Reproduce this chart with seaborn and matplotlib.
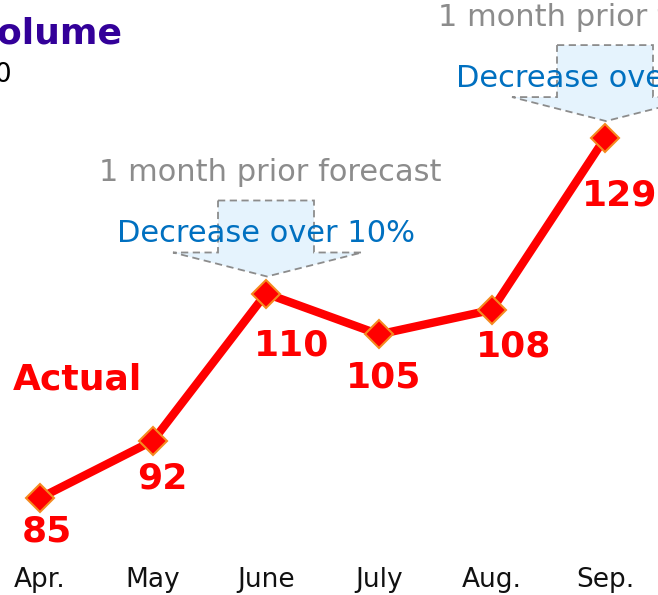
import matplotlib
matplotlib.use("Agg")
import matplotlib.pyplot as plt
from matplotlib.patches import Polygon
import pandas as pd
import seaborn as sns

# Monthly actual values
MONTHS = ["Apr.", "May", "June", "July", "Aug.", "Sep."]
ACTUAL = [85, 92, 110, 105, 108, 129]
# months that get a "decrease over 10%" callout
CALLOUT_MONTHS = ["June", "Sep."]
CALLOUT_TOP = "1 month prior forecast"
CALLOUT_TEXT = "Decrease over 10%"
TITLE = "Volume"
SUBTITLE = "Unit: 1,000"
SERIES_NAME = "Actual"

RED = "#ff0000"
W, H = 658, 595


def main():
    sns.set_style("white")
    plt.rcParams["font.family"] = ["DejaVu Sans"]
    df = pd.DataFrame({"month": MONTHS, "value": ACTUAL})
    df["pos"] = range(len(df))

    fig = plt.figure(figsize=(W / 100, H / 100), dpi=100)
    ax_h = 560 / H
    ax = fig.add_axes([0, 1 - ax_h, 1, ax_h])

    sns.lineplot(data=df, x="pos", y="value", ax=ax, color=RED, linewidth=6,
                 marker="D", markersize=14, markerfacecolor=RED,
                 markeredgecolor="#f58a1f", markeredgewidth=1.5)

    # 113 px per month, 8.18 px per unit
    xpx, ypx = 113.0, 8.18
    ax.set_xlim(-40 / xpx, 5 + 53 / xpx)
    ax.set_ylim(85 - 62 / ypx, 85 + 498 / ypx)
    ax.set_xticks(df["pos"])
    ax.set_xticklabels(MONTHS, fontsize=19, color="#111111")
    ax.tick_params(axis="x", length=0, pad=5)
    ax.set_yticks([])
    ax.set_xlabel("")
    ax.set_ylabel("")
    for s in ax.spines.values():
        s.set_visible(False)

    # value labels (offsets in pixels)
    offsets = [(7, -34), (9, -38), (26, -52), (5, -43), (22, -37), (15, -57)]
    for (p, v), (dx, dy) in zip(zip(df["pos"], df["value"]), offsets):
        ax.annotate(str(v), (p, v), xytext=(dx * 0.72, dy * 0.72),
                    textcoords="offset points", ha="center", va="center",
                    fontsize=26, fontweight="bold", color=RED)

    ax.text(13 / W, (H - 379) / H, SERIES_NAME, transform=fig.transFigure,
            ha="left", va="center", fontsize=26, fontweight="bold", color=RED)

    # callouts: down-arrow shape above the marker
    for m in CALLOUT_MONTHS:
        i = MONTHS.index(m)
        v = ACTUAL[i]
        shape = [(-48, 93), (48, 93), (48, 41), (96, 41), (1, 17),
                 (-93, 41), (-48, 41)]
        verts = [(i + dx / xpx, v + dy / ypx) for dx, dy in shape]
        ax.add_patch(Polygon(verts, closed=True, facecolor="#e5f3fd",
                             edgecolor="#8c8c8c", linestyle=(0, (4, 2.5)),
                             linewidth=1.3, zorder=1))
        ax.text(i + 4 / xpx, v + 121 / ypx, CALLOUT_TOP, ha="center",
                va="center", fontsize=22, color="#8c8c8c")
        ax.text(i + 0 / xpx, v + 60 / ypx, CALLOUT_TEXT, ha="center",
                va="center", fontsize=22, color="#0070c0", zorder=3)

    # title and unit are cut off at the left edge in the reference
    fig.text(-28 / W, (H - 33) / H, TITLE, ha="left", va="center",
             fontsize=26, fontweight="bold", color="#330099")
    fig.text(12 / W, (H - 75) / H, SUBTITLE, ha="right", va="center",
             fontsize=19, color="#000000")

    fig.savefig("out.png", dpi=100)


if __name__ == "__main__":
    main()
